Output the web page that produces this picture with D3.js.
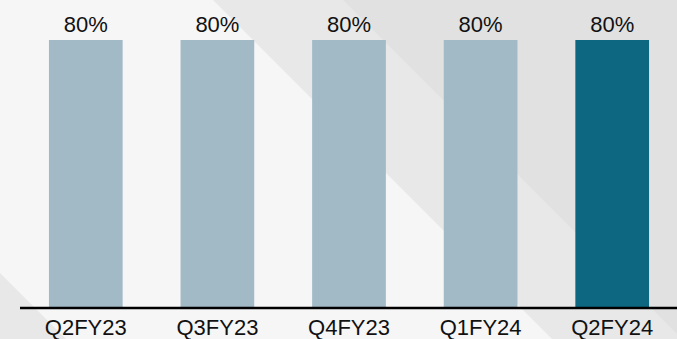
<!DOCTYPE html>
<html>
<head>
<meta charset="utf-8">
<script src="https://cdn.jsdelivr.net/npm/d3@7"></script>
<style>
  html, body { margin: 0; padding: 0; background: #f7f7f7; }
  svg { display: block; }
  text { font-family: "Liberation Sans", Arial, sans-serif; fill: #111; }
</style>
</head>
<body>
<div id="chart"></div>
<script>
// quarters and values
const quarters = ["Q2FY23", "Q3FY23", "Q4FY23", "Q1FY24", "Q2FY24"];
const values = [80, 80, 80, 80, 80];
const valueLabels = ["80%", "80%", "80%", "80%", "80%"];
const highlight = "Q2FY24";

const width = 677, height = 339;
const margin = { top: 40, right: 0, bottom: 31, left: 20 };

const svg = d3.select("#chart").append("svg")
  .attr("width", width)
  .attr("height", height);

// background: white on the left, two grey diagonal bands towards the right
svg.append("rect")
  .attr("width", width).attr("height", height)
  .attr("fill", "#f6f6f6");

const bands = [
  { pts: [[213, 0], [677, 0], [677, 339], [552, 339]], fill: "#e8e8e8" },
  { pts: [[343, 0], [677, 0], [677, 334]], fill: "#e1e1e1" },
  { pts: [[0, 273], [66, 339], [0, 339]], fill: "#e8e8e8" }
];
svg.selectAll(".band")
  .data(bands)
  .enter()
  .append("polygon")
  .attr("class", "band")
  .attr("points", d => d.pts.map(p => p.join(",")).join(" "))
  .attr("fill", d => d.fill);

const innerW = width - margin.left - margin.right;
const innerH = height - margin.top - margin.bottom;

const g = svg.append("g")
  .attr("transform", `translate(${margin.left},${margin.top})`);

const x = d3.scaleBand()
  .domain(quarters)
  .range([0, 658])
  .paddingInner(0.44)
  .paddingOuter(0.22);

const y = d3.scaleLinear()
  .domain([0, 80])
  .range([innerH, 0]);

g.selectAll(".bar")
  .data(quarters)
  .enter()
  .append("rect")
  .attr("class", "bar")
  .attr("x", d => x(d))
  .attr("y", (d, i) => y(values[i]))
  .attr("width", x.bandwidth())
  .attr("height", (d, i) => innerH - y(values[i]))
  .attr("fill", d => d === highlight ? "#0d6781" : "#a2b9c6");

// value labels
g.selectAll(".val")
  .data(quarters)
  .enter()
  .append("text")
  .attr("class", "val")
  .attr("x", d => x(d) + x.bandwidth() / 2)
  .attr("y", (d, i) => y(values[i]) - 8)
  .attr("text-anchor", "middle")
  .style("font-size", "22px")
  .text((d, i) => valueLabels[i]);

// x axis baseline
const xAxis = g.append("g")
  .attr("transform", `translate(0,${innerH})`)
  .call(d3.axisBottom(x).tickSize(0).tickPadding(11));
xAxis.select(".domain")
  .attr("d", `M0,0H${innerW}`)
  .attr("stroke", "#000")
  .attr("stroke-width", 2.5);
xAxis.selectAll("text")
  .style("font-size", "22px")
  .style("font-family", "'Liberation Sans', Arial, sans-serif")
  .attr("fill", "#111");
</script>
</body>
</html>
